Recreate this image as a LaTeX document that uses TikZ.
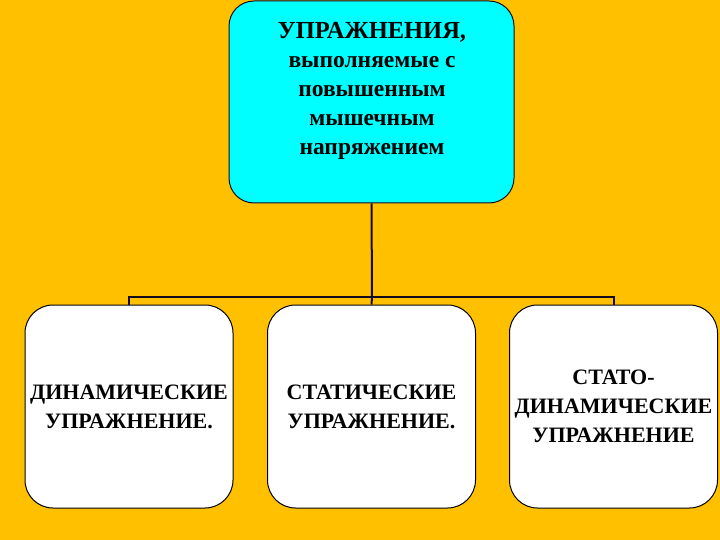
\documentclass[tikz,border=0pt]{standalone}
\usepackage{fontspec}
\setmainfont{Liberation Serif}[BoldFont={Liberation Serif Bold}]
\newfontfamily\tnr{Liberation Serif}[BoldFont={Liberation Serif Bold}]
\definecolor{bgorange}{RGB}{255,192,0}
\definecolor{topcyan}{RGB}{0,255,255}
\definecolor{linedark}{RGB}{20,10,30}
\begin{document}
\begin{tikzpicture}[x=1pt,y=-1pt,
  txt/.style={font=\tnr\fontsize{22}{29}\selectfont\bfseries, align=center, inner sep=0pt},
  toptxt/.style={font=\tnr\fontsize{23.5}{29}\selectfont\bfseries, align=center, inner sep=0pt},
  topbox/.style={draw=linedark, line width=1pt, fill=topcyan, rounded corners=25pt,
    minimum width=285pt, minimum height=202pt, inner sep=0pt},
  lowbox/.style={draw=black, line width=1pt, fill=white, rounded corners=28pt,
    minimum width=208pt, minimum height=203pt, inner sep=0pt},
  conn/.style={draw=linedark, line width=2pt}]
\fill[bgorange] (0,0) rectangle (720,540);
\useasboundingbox (0,0) rectangle (720,540);
\node[topbox] (top) at (371.5,102) {};
\node[toptxt] (toptext) at (372,91) {{\fontsize{24.5}{29}\selectfont УПРАЖНЕНИЯ,}\\выполняемые с\\повышенным\\мышечным\\напряжением};
\node[lowbox] (b1) at (129,406.5) {};
\node[lowbox] (b2) at (371.5,406.5) {};
\node[lowbox] (b3) at (613.5,406.5) {};
\node[txt] (t1) at (b1) {ДИНАМИЧЕСКИЕ\\УПРАЖНЕНИЕ.};
\node[txt] (t2) at (b2) {СТАТИЧЕСКИЕ\\УПРАЖНЕНИЕ.};
\node[txt] (t3) at (b3) {СТАТО-\\ДИНАМИЧЕСКИЕ\\УПРАЖНЕНИЕ};
\coordinate (j) at (372,297);
\draw[conn] (top.south) -- (j);
\draw[conn] (b1.north) -- (b1.north |- j) -- (b3.north |- j) -- (b3.north);
\draw[conn] (j) -- (b2.north);
\end{tikzpicture}
\end{document}
